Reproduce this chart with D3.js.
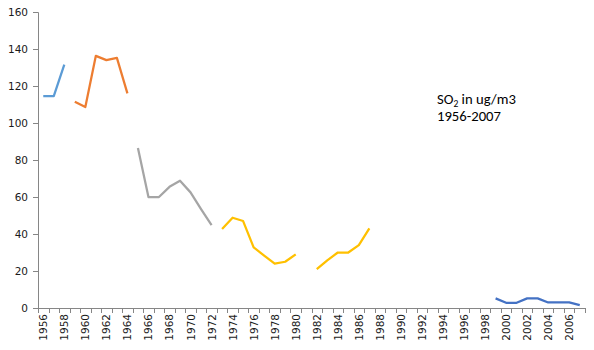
<!DOCTYPE html>
<html><head><meta charset="utf-8">
<script src="https://cdn.jsdelivr.net/npm/d3@7"></script>
<style>body{margin:0;background:#fff}svg{display:block}</style>
</head><body>
<svg id="c" width="594" height="350"></svg>
<script>
const firstYear = 1956, lastYear = 2007;
const yTicks = [0, 20, 40, 60, 80, 100, 120, 140, 160];
const series1Years = [1956, 1957, 1958];
const series1Values = [114.5, 114.5, 131.5];
const series2Years = [1959, 1960, 1961, 1962, 1963, 1964];
const series2Values = [111.5, 108.6, 136.3, 134, 135.2, 116];
const series3Years = [1965, 1966, 1967, 1968, 1969, 1970, 1971, 1972];
const series3Values = [86.5, 60, 60, 65.5, 68.8, 62.5, 53.5, 44.8];
const series4Years = [1973, 1974, 1975, 1976, 1977, 1978, 1979, 1980, 1981, 1982, 1983, 1984, 1985, 1986, 1987];
const series4Values = [42.7, 48.8, 47, 32.8, 28.3, 24, 25, 29, null, 21, 25.7, 30, 30, 34, 43];
const series5Years = [1999, 2000, 2001, 2002, 2003, 2004, 2005, 2006, 2007];
const series5Values = [5.2, 2.8, 2.8, 5.2, 5.2, 3, 3, 3, 1.6];
const colors = ["#5B9BD5", "#ED7D31", "#A5A5A5", "#FFC000", "#4472C4"];
const annotationLines = ["SO", "2", " in ug/m3", "1956-2007"];

const years = d3.range(firstYear, lastYear + 1);
const svg = d3.select("#c");
const x = d3.scaleBand().domain(years).range([38, 585]).padding(0);
const y = d3.scaleLinear().domain([0, 160]).range([308, 12]);
const axisColor = "#868686";
const font = "DejaVu Sans, Verdana, sans-serif";

// Y axis
const ya = svg.append("g").attr("transform", "translate(38,0)")
  .call(d3.axisLeft(y).tickValues(yTicks).tickSize(5).tickPadding(5));
ya.select(".domain").attr("stroke", axisColor);
ya.selectAll(".tick line").attr("stroke", axisColor);
ya.selectAll("text").attr("font-family", font).attr("font-size", "10.5px").attr("fill", "#1a1a1a");

// X axis (category, ticks between categories)
const xg = svg.append("g");
xg.append("line").attr("x1", 38).attr("x2", 585).attr("y1", 308.5).attr("y2", 308.5).attr("stroke", axisColor);
const bounds = years.map(d => x(d)).concat([x(lastYear) + x.bandwidth()]);
xg.selectAll("line.t").data(bounds).join("line").attr("class", "t")
  .attr("x1", d => Math.round(d) + 0.5).attr("x2", d => Math.round(d) + 0.5)
  .attr("y1", 308).attr("y2", 313).attr("stroke", axisColor);
xg.selectAll("text").data(years.filter(d => d % 2 === 0)).join("text")
  .attr("transform", d => `translate(${x(d) + x.bandwidth() / 2 + 4},314) rotate(-90)`)
  .attr("text-anchor", "end")
  .attr("font-family", font).attr("font-size", "10.5px").attr("fill", "#1a1a1a")
  .text(d => d);

// Lines
const line = d3.line().defined(d => d[1] != null)
  .x(d => x(d[0]) + x.bandwidth() / 2).y(d => y(d[1]));
const allSeries = [
  [series1Years, series1Values], [series2Years, series2Values], [series3Years, series3Values],
  [series4Years, series4Values], [series5Years, series5Values]
];
allSeries.forEach((s, i) => {
  const pts = s[0].map((yr, j) => [yr, s[1][j]]);
  svg.append("path").attr("d", line(pts)).attr("fill", "none")
    .attr("stroke", colors[i]).attr("stroke-width", 2.25)
    .attr("stroke-linejoin", "round").attr("stroke-linecap", "butt");
});

// Annotation
const af = "Carlito, Calibri, 'Open Sans', sans-serif";
const ag = svg.append("g").attr("font-family", af).attr("fill", "#000");
const t1 = ag.append("text").attr("x", 437).attr("y", 104);
t1.append("tspan").text(annotationLines[0]);
const sub = t1.append("tspan").attr("dy", 3).text(annotationLines[1]);
t1.append("tspan").attr("dy", -3).text(annotationLines[2]);
const t2 = ag.append("text").attr("x", 437).attr("y", 121).text(annotationLines[3]);
let fs = 14;
ag.attr("font-size", fs + "px"); sub.attr("font-size", (fs * 0.65) + "px");
const w = t1.node().getComputedTextLength();
fs = Math.max(11, Math.min(16, fs * 79 / w));
ag.attr("font-size", fs + "px"); sub.attr("font-size", (fs * 0.65) + "px");
</script>
</body></html>
